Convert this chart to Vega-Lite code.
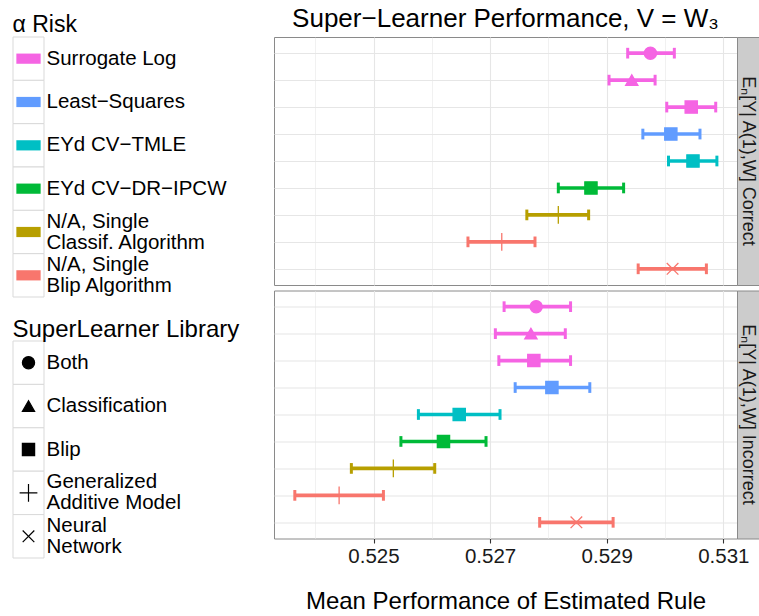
{
  "$schema": "https://vega.github.io/schema/vega-lite/v6.json",
  "padding": {"left": 12, "top": 0, "right": 0, "bottom": 0},
  "background": "white",
  "config": {
    "font": "Liberation Sans",
    "title": {"fontWeight": "normal", "color": "#000000"},
    "axis": {"labelFont": "Liberation Sans", "titleFont": "Liberation Sans"}
  },
  "datasets": {
    "perf": [
      {"model": "Correct", "row": "r1", "risk": "Surrogate Log", "library": "Both", "est": 0.52975, "lo": 0.52936, "hi": 0.53016},
      {"model": "Correct", "row": "r2", "risk": "Surrogate Log", "library": "Classification", "est": 0.52943, "lo": 0.52904, "hi": 0.52983},
      {"model": "Correct", "row": "r3", "risk": "Surrogate Log", "library": "Blip", "est": 0.53045, "lo": 0.53003, "hi": 0.53087},
      {"model": "Correct", "row": "r4", "risk": "Least−Squares", "library": "Blip", "est": 0.53010, "lo": 0.52962, "hi": 0.53060},
      {"model": "Correct", "row": "r5", "risk": "EYd CV−TMLE", "library": "Blip", "est": 0.53048, "lo": 0.53006, "hi": 0.53089},
      {"model": "Correct", "row": "r6", "risk": "EYd CV−DR−IPCW", "library": "Blip", "est": 0.52873, "lo": 0.52817, "hi": 0.52929},
      {"model": "Correct", "row": "r7", "risk": "N/A, Single\nClassif. Algorithm", "library": "Generalized\nAdditive Model", "est": 0.52817, "lo": 0.52763, "hi": 0.52869},
      {"model": "Correct", "row": "r8", "risk": "N/A, Single\nBlip Algorithm", "library": "Generalized\nAdditive Model", "est": 0.52720, "lo": 0.52662, "hi": 0.52777},
      {"model": "Correct", "row": "r9", "risk": "N/A, Single\nBlip Algorithm", "library": "Neural\nNetwork", "est": 0.53013, "lo": 0.52954, "hi": 0.53071},
      {"model": "Incorrect", "row": "r1", "risk": "Surrogate Log", "library": "Both", "est": 0.52779, "lo": 0.52724, "hi": 0.52838},
      {"model": "Incorrect", "row": "r2", "risk": "Surrogate Log", "library": "Classification", "est": 0.52770, "lo": 0.52709, "hi": 0.52829},
      {"model": "Incorrect", "row": "r3", "risk": "Surrogate Log", "library": "Blip", "est": 0.52775, "lo": 0.52715, "hi": 0.52838},
      {"model": "Incorrect", "row": "r4", "risk": "Least−Squares", "library": "Blip", "est": 0.52806, "lo": 0.52743, "hi": 0.52871},
      {"model": "Incorrect", "row": "r5", "risk": "EYd CV−TMLE", "library": "Blip", "est": 0.52647, "lo": 0.52577, "hi": 0.52717},
      {"model": "Incorrect", "row": "r6", "risk": "EYd CV−DR−IPCW", "library": "Blip", "est": 0.52620, "lo": 0.52547, "hi": 0.52693},
      {"model": "Incorrect", "row": "r7", "risk": "N/A, Single\nClassif. Algorithm", "library": "Generalized\nAdditive Model", "est": 0.52534, "lo": 0.52462, "hi": 0.52605},
      {"model": "Incorrect", "row": "r8", "risk": "N/A, Single\nBlip Algorithm", "library": "Generalized\nAdditive Model", "est": 0.52441, "lo": 0.52365, "hi": 0.52517},
      {"model": "Incorrect", "row": "r9", "risk": "N/A, Single\nBlip Algorithm", "library": "Neural\nNetwork", "est": 0.52848, "lo": 0.52785, "hi": 0.52911}
    ],
    "riskKeys": [
      {"risk": "Surrogate Log"}, {"risk": "Least−Squares"}, {"risk": "EYd CV−TMLE"},
      {"risk": "EYd CV−DR−IPCW"}, {"risk": "N/A, Single\nClassif. Algorithm"}, {"risk": "N/A, Single\nBlip Algorithm"}
    ],
    "libKeys": [
      {"library": "Both"}, {"library": "Classification"}, {"library": "Blip"},
      {"library": "Generalized\nAdditive Model"}, {"library": "Neural\nNetwork"}
    ],
    "stripTop": [{"label": "Eₙ[Y| A(1),W]  Correct"}],
    "stripBottom": [{"label": "Eₙ[Y| A(1),W]  Incorrect"}]
  },
  "hconcat": [
    {
      "vconcat": [
        {
          "width": 31, "height": 260,
          "title": {"text": ["", "α  Risk"], "lineHeight": 14.3, "fontSize": 23, "anchor": "start", "offset": -0.8},
          "data": {"name": "riskKeys"},
          "view": {"stroke": null},
          "encoding": {
            "y": {"field": "risk", "type": "nominal",
              "scale": {"type": "band", "paddingInner": 0, "paddingOuter": 0,
                "domain": ["Surrogate Log", "Least−Squares", "EYd CV−TMLE", "EYd CV−DR−IPCW", "N/A, Single\nClassif. Algorithm", "N/A, Single\nBlip Algorithm"]},
              "axis": {"orient": "right", "title": null, "ticks": false, "domain": false, "grid": false,
                "labelExpr": "split(datum.label, '\\n')", "labelFontSize": 20.5, "labelColor": "#000000",
                "labelPadding": 2, "labelLimit": 300, "labelLineHeight": 21, "labelBaseline": "middle",
                "labelOffset": {"condition": {"test": "indexof(datum.value, '\\n') >= 0", "value": -10.5}, "value": 0},
                "minExtent": 228.5, "maxExtent": 228.5}}
          },
          "layer": [
            {"mark": {"type": "rect", "fill": "white", "stroke": "#d9d9d9", "strokeWidth": 1}},
            {"mark": {"type": "point", "shape": "M-1,-0.42H1V0.42H-1Z", "size": 590, "filled": true, "opacity": 1},
              "encoding": {"color": {"field": "risk", "type": "nominal", "legend": null,
                "scale": {"domain": ["Surrogate Log", "Least−Squares", "EYd CV−TMLE", "EYd CV−DR−IPCW", "N/A, Single\nClassif. Algorithm", "N/A, Single\nBlip Algorithm"],
                  "range": ["#F564E3", "#619CFF", "#00BFC4", "#00BA38", "#B79F00", "#F8766D"]}}}}
          ]
        },
        {
          "width": 31, "height": 217,
          "title": {"text": "SuperLearner Library", "fontSize": 24, "anchor": "start", "offset": -1},
          "data": {"name": "libKeys"},
          "view": {"stroke": null},
          "encoding": {
            "y": {"field": "library", "type": "nominal",
              "scale": {"type": "band", "paddingInner": 0, "paddingOuter": 0,
                "domain": ["Both", "Classification", "Blip", "Generalized\nAdditive Model", "Neural\nNetwork"]},
              "axis": {"orient": "right", "title": null, "ticks": false, "domain": false, "grid": false,
                "labelExpr": "split(datum.label, '\\n')", "labelFontSize": 20.5, "labelColor": "#000000",
                "labelPadding": 2, "labelLimit": 300, "labelLineHeight": 21, "labelBaseline": "middle",
                "labelOffset": {"condition": {"test": "indexof(datum.value, '\\n') >= 0", "value": -10.5}, "value": 0},
                "minExtent": 228.5, "maxExtent": 228.5}}
          },
          "layer": [
            {"mark": {"type": "rect", "fill": "white", "stroke": "#d9d9d9", "strokeWidth": 1}},
            {"mark": {"type": "point", "size": 150, "filled": true, "opacity": 1, "fill": "#000000", "stroke": "#000000", "strokeWidth": 1.2},
              "encoding": {"shape": {"field": "library", "type": "nominal", "legend": null,
                "scale": {"domain": ["Both", "Classification", "Blip", "Generalized\nAdditive Model", "Neural\nNetwork"],
                  "range": ["circle", "triangle-up", "square", "M-1.45,0H1.45M0,-1.45V1.45", "M-0.95,-0.95L0.95,0.95M-0.95,0.95L0.95,-0.95"]}}}}
          ]
        }
      ],
      "spacing": 19
    },
    {
      "vconcat": [
        {
          "hconcat": [
            {
              "width": 463, "height": 248,
              "title": {"text": "Super−Learner Performance, V = W₃", "fontSize": 26, "anchor": "middle", "offset": 5},
              "data": {"name": "perf"},
              "transform": [{"filter": "datum.model === 'Correct'"}],
              "view": {"stroke": "#8a8a8a", "strokeWidth": 1},
              "encoding": {
                "y": {"field": "row", "type": "nominal",
                  "scale": {"type": "point", "padding": 0.6, "domain": ["r1", "r2", "r3", "r4", "r5", "r6", "r7", "r8", "r9"]},
                  "axis": {"title": null, "labels": false, "ticks": false, "domain": false, "grid": true,
                    "gridColor": "#e6e6e6", "gridWidth": 1.1, "minExtent": 0, "maxExtent": 0}}
              },
              "layer": [
                {"mark": {"type": "rule", "strokeWidth": 3.6, "opacity": 1},
                  "encoding": {
                    "x": {"field": "lo", "type": "quantitative",
                      "scale": {"domain": [0.523293, 0.531235], "nice": false, "zero": false},
                      "axis": {"title": null, "labels": false, "ticks": false, "domain": false, "grid": true,
                        "values": [0.524, 0.525, 0.526, 0.527, 0.528, 0.529, 0.53, 0.531],
                        "gridColor": "#e6e6e6",
                        "gridWidth": {"condition": {"test": "round(datum.value*1000) % 2 == 1", "value": 1.1}, "value": 0.55},
                        "minExtent": 0, "maxExtent": 0}},
                    "x2": {"field": "hi"},
                    "color": {"field": "risk", "type": "nominal", "legend": null}
                  }},
                {"mark": {"type": "tick", "thickness": 3, "size": 10.7, "opacity": 1},
                  "encoding": {"x": {"field": "lo", "type": "quantitative"}, "color": {"field": "risk", "type": "nominal", "legend": null}}},
                {"mark": {"type": "tick", "thickness": 3, "size": 10.7, "opacity": 1},
                  "encoding": {"x": {"field": "hi", "type": "quantitative"}, "color": {"field": "risk", "type": "nominal", "legend": null}}},
                {"mark": {"type": "point", "size": 150, "filled": true, "opacity": 1, "strokeWidth": 1.3},
                  "encoding": {
                    "x": {"field": "est", "type": "quantitative"},
                    "shape": {"field": "library", "type": "nominal", "legend": null},
                    "fill": {"field": "risk", "type": "nominal", "legend": null,
                      "scale": {"domain": ["Surrogate Log", "Least−Squares", "EYd CV−TMLE", "EYd CV−DR−IPCW", "N/A, Single\nClassif. Algorithm", "N/A, Single\nBlip Algorithm"],
                        "range": ["#F564E3", "#619CFF", "#00BFC4", "#00BA38", "#B79F00", "#F8766D"]}},
                    "stroke": {"field": "risk", "type": "nominal", "legend": null,
                      "scale": {"domain": ["Surrogate Log", "Least−Squares", "EYd CV−TMLE", "EYd CV−DR−IPCW", "N/A, Single\nClassif. Algorithm", "N/A, Single\nBlip Algorithm"],
                        "range": ["#F564E3", "#619CFF", "#00BFC4", "#00BA38", "#B79F00", "#F8766D"]}}
                  }}
              ]
            },
            {
              "width": 22, "height": 248,
              "data": {"name": "stripTop"},
              "view": {"fill": "#cccccc", "stroke": "#8a8a8a"},
              "mark": {"type": "text", "angle": 90, "fontSize": 18, "align": "center", "baseline": "middle", "color": "#1a1a1a"},
              "encoding": {"text": {"field": "label"}}
            }
          ],
          "spacing": 0,
          "bounds": "flush"
        },
        {
          "hconcat": [
            {
              "width": 463, "height": 248,
              "data": {"name": "perf"},
              "transform": [{"filter": "datum.model === 'Incorrect'"}],
              "view": {"stroke": "#8a8a8a", "strokeWidth": 1},
              "encoding": {
                "y": {"field": "row", "type": "nominal",
                  "scale": {"type": "point", "padding": 0.6, "domain": ["r1", "r2", "r3", "r4", "r5", "r6", "r7", "r8", "r9"]},
                  "axis": {"title": null, "labels": false, "ticks": false, "domain": false, "grid": true,
                    "gridColor": "#e6e6e6", "gridWidth": 1.1, "minExtent": 0, "maxExtent": 0}}
              },
              "layer": [
                {"mark": {"type": "rule", "strokeWidth": 3.6, "opacity": 1},
                  "encoding": {
                    "x": {"field": "lo", "type": "quantitative",
                      "scale": {"domain": [0.523293, 0.531235], "nice": false, "zero": false},
                      "axis": {"title": "Mean Performance of Estimated Rule", "titleFontSize": 24, "titleFontWeight": "normal",
                        "titleColor": "#000000", "titlePadding": 22.5,
                        "values": [0.524, 0.525, 0.526, 0.527, 0.528, 0.529, 0.53, 0.531],
                        "labelExpr": "round(datum.value*1000) % 2 == 1 ? format(datum.value, '.3f') : ''",
                        "labelFontSize": 20.5, "labelColor": "#1a1a1a", "labelPadding": 3,
                        "labelOverlap": false, "labelFlush": false,
                        "ticks": true, "tickColor": "#333333", "tickWidth": 1.1,
                        "tickSize": {"condition": {"test": "round(datum.value*1000) % 2 == 1", "value": 4.5}, "value": 0},
                        "domain": false, "grid": true, "gridColor": "#e6e6e6",
                        "gridWidth": {"condition": {"test": "round(datum.value*1000) % 2 == 1", "value": 1.1}, "value": 0.55}}},
                    "x2": {"field": "hi"},
                    "color": {"field": "risk", "type": "nominal", "legend": null}
                  }},
                {"mark": {"type": "tick", "thickness": 3, "size": 10.7, "opacity": 1},
                  "encoding": {"x": {"field": "lo", "type": "quantitative"}, "color": {"field": "risk", "type": "nominal", "legend": null}}},
                {"mark": {"type": "tick", "thickness": 3, "size": 10.7, "opacity": 1},
                  "encoding": {"x": {"field": "hi", "type": "quantitative"}, "color": {"field": "risk", "type": "nominal", "legend": null}}},
                {"mark": {"type": "point", "size": 150, "filled": true, "opacity": 1, "strokeWidth": 1.3},
                  "encoding": {
                    "x": {"field": "est", "type": "quantitative"},
                    "shape": {"field": "library", "type": "nominal", "legend": null},
                    "fill": {"field": "risk", "type": "nominal", "legend": null},
                    "stroke": {"field": "risk", "type": "nominal", "legend": null}
                  }}
              ]
            },
            {
              "width": 22, "height": 248,
              "data": {"name": "stripBottom"},
              "view": {"fill": "#cccccc", "stroke": "#8a8a8a"},
              "mark": {"type": "text", "angle": 90, "fontSize": 18, "align": "center", "baseline": "middle", "color": "#1a1a1a"},
              "encoding": {"text": {"field": "label"}}
            }
          ],
          "spacing": 0,
          "bounds": "flush"
        }
      ],
      "spacing": 3.5
    }
  ],
  "spacing": 0
}
